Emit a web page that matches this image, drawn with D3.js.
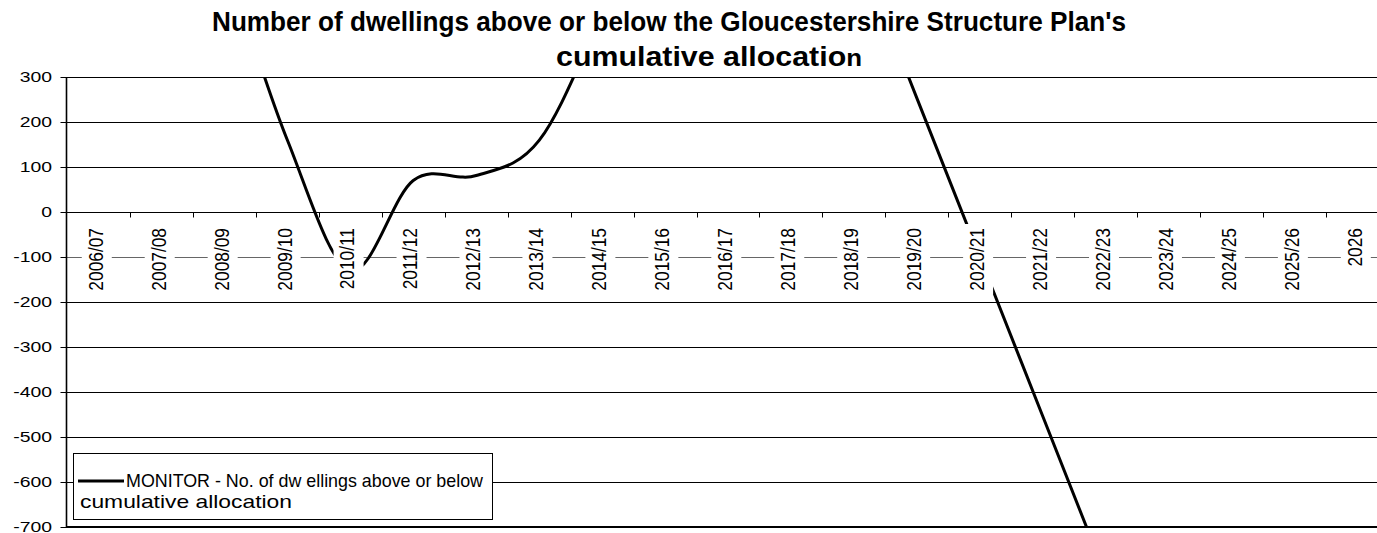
<!DOCTYPE html>
<html>
<head>
<meta charset="utf-8">
<script src="https://cdn.jsdelivr.net/npm/d3@7"></script>
<style>
  html, body { margin: 0; padding: 0; background: #fff; }
  svg { display: block; font-family: Arial, "Liberation Sans", sans-serif; }
</style>
</head>
<body>
<svg id="chart" width="1377" height="533"></svg>
<script>
// Financial years on the category axis
const categories = [
  "2006/07", "2007/08", "2008/09", "2009/10", "2010/11", "2011/12", "2012/13",
  "2013/14", "2014/15", "2015/16", "2016/17", "2017/18", "2018/19", "2019/20",
  "2020/21", "2021/22", "2022/23", "2023/24", "2024/25", "2025/26", "2026"
];

// MONITOR: dwellings above (+) or below (-) the cumulative allocation
const monitorValues = [
  1080, 900, 560, 160, -130, 70, 81,
  159, 440, 750, 990, 960, 608, 253,
  -100, -454, -808, -1162, -1516, -1870, -2224
];

const yTickValues = [300, 200, 100, 0, -100, -200, -300, -400, -500, -600, -700];

const titleLines = [
  "Number of dwellings above or below the Gloucestershire Structure Plan's",
  "cumulative allocatio", "n"
];

const legendLines = [
  "MONITOR - No. of dw ellings above or below",
  "cumulative allocation"
];

const svg = d3.select("#chart");

const plot = { left: 67, right: 1389, top: 77, bottom: 527 };

const x = d3.scaleBand()
  .domain(categories)
  .range([plot.left, plot.right])
  .padding(0);

const y = d3.scaleLinear()
  .domain([-700, 300])
  .range([plot.bottom, plot.top]);

const cx = d => x(d) + x.bandwidth() / 2;
const crisp = v => Math.round(v) + 0.5;

// ---- title ----
const title = svg.append("g")
  .attr("font-weight", "bold")
  .attr("font-size", 27)
  .attr("fill", "#000");

title.append("text")
  .attr("x", 212)
  .attr("y", 31)
  .attr("textLength", 914)
  .attr("lengthAdjust", "spacingAndGlyphs")
  .text(titleLines[0]);

const t2 = title.append("text")
  .attr("x", 556)
  .attr("y", 66)
  .attr("textLength", 306)
  .attr("lengthAdjust", "spacingAndGlyphs");
t2.append("tspan").text(titleLines[1]);
t2.append("tspan").attr("font-size", 23).text(titleLines[2]);

// ---- horizontal gridlines ----
svg.append("g")
  .selectAll("line")
  .data(yTickValues)
  .join("line")
  .attr("x1", plot.left)
  .attr("x2", plot.right)
  .attr("y1", d => crisp(y(d)))
  .attr("y2", d => crisp(y(d)))
  .attr("stroke", d => d === -100 ? "#666" : "#000")
  .attr("stroke-width", 1);

// ---- data line (clipped to the plot area) ----
svg.append("clipPath")
  .attr("id", "plot-clip")
  .append("rect")
  .attr("x", plot.left)
  .attr("y", plot.top)
  .attr("width", plot.right - plot.left)
  .attr("height", plot.bottom - plot.top);

const series = categories.map((c, i) => ({ cat: c, value: monitorValues[i] }));

const line = d3.line()
  .x(d => cx(d.cat))
  .y(d => y(d.value))
  .curve(d3.curveCardinal.tension(0));

svg.append("path")
  .datum(series)
  .attr("clip-path", "url(#plot-clip)")
  .attr("fill", "none")
  .attr("stroke", "#000")
  .attr("stroke-width", 3)
  .attr("stroke-linejoin", "round")
  .attr("d", line);

// ---- category axis through zero ----
const y0 = crisp(y(0));
const xAxis = svg.append("g");

xAxis.append("line")
  .attr("x1", plot.left)
  .attr("x2", plot.right)
  .attr("y1", y0)
  .attr("y2", y0)
  .attr("stroke", "#000")
  .attr("stroke-width", 1.2);

xAxis.selectAll("line.tick")
  .data(categories.slice(1))
  .join("line")
  .attr("class", "tick")
  .attr("x1", d => crisp(x(d)))
  .attr("x2", d => crisp(x(d)))
  .attr("y1", y0)
  .attr("y2", y0 + 5)
  .attr("stroke", "#000")
  .attr("stroke-width", 1);

// rotated category labels on white boxes
const labelTop = 228;
const labels = xAxis.selectAll("g.cat")
  .data(categories)
  .join("g")
  .attr("class", "cat");

labels.each(function (d) {
  const g = d3.select(this);
  const rect = g.append("rect").attr("fill", "#fff");
  const txt = g.append("text")
    .attr("transform", `translate(${cx(d) + 4.2},${labelTop}) scale(1.16,1) rotate(-90)`)
    .attr("text-anchor", "end")
    .attr("font-size", 17.35)
    .attr("fill", "#000")
    .text(d);
  const len = txt.node().getComputedTextLength();
  rect.attr("x", cx(d) - 16.7)
    .attr("y", labelTop - 4)
    .attr("width", 30)
    .attr("height", len + 8);
});

// ---- value axis ----
const yAxisX = plot.left - 0.5;
const yAxis = svg.append("g");

yAxis.append("line")
  .attr("x1", yAxisX)
  .attr("x2", yAxisX)
  .attr("y1", plot.top)
  .attr("y2", plot.bottom + 1)
  .attr("stroke", "#000")
  .attr("stroke-width", 1.6);

yAxis.selectAll("line.tick")
  .data(yTickValues)
  .join("line")
  .attr("class", "tick")
  .attr("x1", yAxisX - 6)
  .attr("x2", yAxisX)
  .attr("y1", d => crisp(y(d)))
  .attr("y2", d => crisp(y(d)))
  .attr("stroke", "#000")
  .attr("stroke-width", 1);

yAxis.selectAll("text")
  .data(yTickValues)
  .join("text")
  .attr("transform", d => `translate(52,${y(d)}) scale(1.25,1)`)
  .attr("text-anchor", "end")
  .attr("dy", "0.33em")
  .attr("font-size", 15.5)
  .attr("fill", "#000")
  .text(d => String(d));

// bottom edge of the plot area
svg.append("line")
  .attr("x1", plot.left - 1)
  .attr("x2", plot.right)
  .attr("y1", plot.bottom)
  .attr("y2", plot.bottom)
  .attr("stroke", "#000")
  .attr("stroke-width", 1.8);

// ---- legend ----
const legend = svg.append("g");

legend.append("rect")
  .attr("x", 73.5)
  .attr("y", 453.5)
  .attr("width", 419)
  .attr("height", 66)
  .attr("fill", "#fff")
  .attr("stroke", "#000")
  .attr("stroke-width", 1);

legend.append("line")
  .attr("x1", 78)
  .attr("x2", 124)
  .attr("y1", 481)
  .attr("y2", 481)
  .attr("stroke", "#000")
  .attr("stroke-width", 3);

legend.append("text")
  .attr("x", 126)
  .attr("y", 487)
  .attr("font-size", 18.5)
  .attr("textLength", 357)
  .attr("lengthAdjust", "spacingAndGlyphs")
  .attr("fill", "#000")
  .text(legendLines[0]);

legend.append("text")
  .attr("x", 80)
  .attr("y", 507.5)
  .attr("font-size", 18.5)
  .attr("textLength", 212)
  .attr("lengthAdjust", "spacingAndGlyphs")
  .attr("fill", "#000")
  .text(legendLines[1]);
</script>
</body>
</html>
